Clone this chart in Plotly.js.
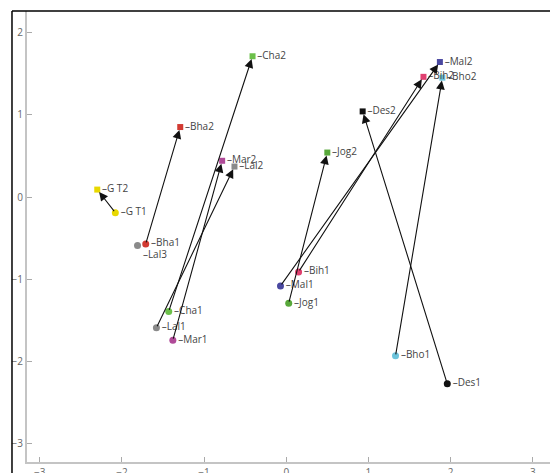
<!DOCTYPE html>
<html>
<head>
<meta charset="utf-8">
<script src="https://cdn.plot.ly/plotly-3.0.1.min.js"></script>
<style>
html,body{margin:0;padding:0;background:#fff;}
#chart{width:550px;height:473px;}
</style>
</head>
<body>
<div id="chart"></div>
<script>
// Pairs: start point (1) -> end point (2)
var groups = ['GT', 'Bha', 'Cha', 'Mar', 'Lal', 'Mal', 'Bih', 'Jog', 'Bho', 'Des'];
var labels1 = ['G T1', 'Bha1', 'Cha1', 'Mar1', 'Lal1', 'Mal1', 'Bih1', 'Jog1', 'Bho1', 'Des1'];
var labels2 = ['G T2', 'Bha2', 'Cha2', 'Mar2', 'Lal2', 'Mal2', 'Bih2', 'Jog2', 'Bho2', 'Des2'];
var x1 = [-2.08, -1.71, -1.43, -1.38, -1.58, -0.07, 0.15, 0.03, 1.33, 1.96];
var y1 = [-0.19, -0.57, -1.39, -1.74, -1.59, -1.08, -0.91, -1.29, -1.93, -2.27];
var x2 = [-2.30, -1.29, -0.41, -0.78, -0.63, 1.87, 1.67, 0.50, 1.90, 0.93];
var y2 = [0.09, 0.85, 1.71, 0.44, 0.37, 1.64, 1.46, 0.54, 1.45, 1.04];
var colors = ['#e8d800', '#d23a32', '#6cc04a', '#b04a98', '#8a8a8a', '#4a48a0', '#e04070', '#58a83a', '#6cc4dc', '#111111'];
// Extra unpaired point
var extraLabel = ['Lal3'];
var extraX = [-1.81];
var extraY = [-0.59];
var extraColor = ['#8a8a8a'];

var xTicks = [-3, -2, -1, 0, 1, 2, 3];
var yTicks = [-3, -2, -1, 0, 1, 2];

var dash = '\u2013';
var tfont = {family: 'Open Sans, sans-serif', size: 10, color: '#444'};

var traces = [
  {
    x: x1, y: y1, mode: 'markers+text', type: 'scatter',
    text: labels1.map(function(s){return dash + s;}),
    textposition: 'middle right', textfont: tfont,
    marker: {symbol: 'circle', size: 7, color: colors},
    hoverinfo: 'text', cliponaxis: false
  },
  {
    x: x2, y: y2, mode: 'markers+text', type: 'scatter',
    text: labels2.map(function(s){return dash + s;}),
    textposition: 'middle right', textfont: tfont,
    marker: {symbol: 'square', size: 6, color: colors},
    hoverinfo: 'text', cliponaxis: false
  },
  {
    x: extraX, y: extraY, mode: 'markers+text', type: 'scatter',
    text: extraLabel.map(function(s){return dash + s;}),
    textposition: 'bottom right', textfont: tfont,
    marker: {symbol: 'circle', size: 7, color: extraColor},
    hoverinfo: 'text', cliponaxis: false
  }
];

var annotations = groups.map(function(g, i){
  return {
    x: x2[i], y: y2[i], xref: 'x', yref: 'y',
    ax: x1[i], ay: y1[i], axref: 'x', ayref: 'y',
    text: '', showarrow: true, arrowhead: 2, arrowsize: 1.6,
    arrowwidth: 1.1, arrowcolor: '#111', standoff: 3
  };
});

var axisCommon = {
  showline: true, linecolor: '#c4c4c4', linewidth: 2,
  ticks: 'inside', ticklen: 5, tickcolor: '#aaa', tickwidth: 1,
  showgrid: false, zeroline: false,
  tickfont: {family: 'Open Sans, sans-serif', size: 10, color: '#666'}
};

var layout = {
  width: 550, height: 473,
  margin: {l: 27, r: 0, t: 11, b: 11},
  paper_bgcolor: '#fff', plot_bgcolor: '#fff',
  showlegend: false,
  xaxis: Object.assign({}, axisCommon, {range: [-3.155, 3.21], tickvals: xTicks}),
  yaxis: Object.assign({}, axisCommon, {range: [-3.22, 2.26], tickvals: yTicks}),
  annotations: annotations,
  shapes: [
    {type: 'line', xref: 'paper', yref: 'paper', x0: -0.0287, x1: -0.0287, y0: 1, y1: -0.06,
     line: {color: '#000', width: 1.5}},
    {type: 'line', xref: 'paper', yref: 'paper', x0: -0.0287, x1: 1.01, y0: 1, y1: 1,
     line: {color: '#000', width: 1.5}}
  ]
};

Plotly.newPlot('chart', traces, layout, {displayModeBar: false, staticPlot: true});
</script>
</body>
</html>
